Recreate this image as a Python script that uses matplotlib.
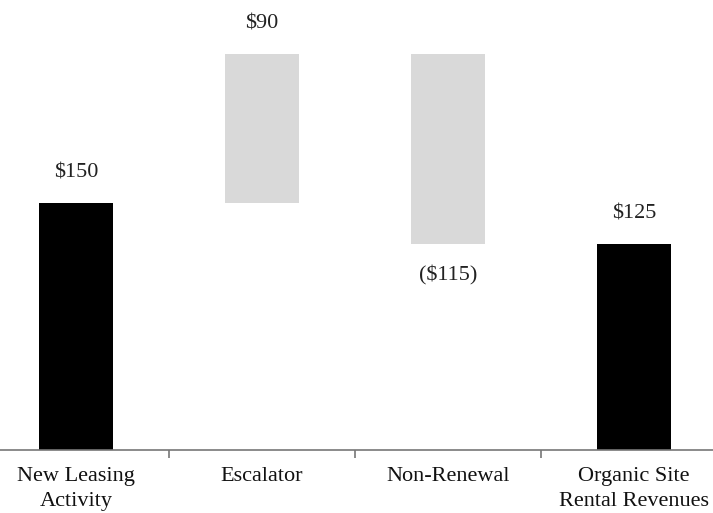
import matplotlib.pyplot as plt
from matplotlib.ticker import FixedLocator

plt.rcParams['font.family'] = ['Liberation Serif', 'DejaVu Serif']

categories = ['New Leasing\nActivity', 'Escalator', 'Non-Renewal', 'Organic Site\nRental Revenues']
changes = [150, 90, -115, 125]
labels = ['$150', '$90', '($115)', '$125']
is_total = [True, False, False, True]

# waterfall bases
bottoms = []
heights = []
running = 0
for val, tot in zip(changes, is_total):
    if tot:
        bottoms.append(0)
        heights.append(val)
        running = val
    else:
        bottoms.append(running if val > 0 else running + val)
        heights.append(abs(val))
        running += val

colors = ['black' if t else '#d9d9d9' for t in is_total]

fig = plt.figure(figsize=(7.13, 5.13), dpi=100)
ax = fig.add_axes([0, 63 / 513, 1, 1 - 63 / 513])

x = list(range(len(categories)))
ax.bar(x, heights, bottom=bottoms, width=0.4, color=colors)

for i, (b, h, lab) in enumerate(zip(bottoms, heights, labels)):
    if changes[i] < 0:
        ax.annotate(lab, (i, b), xytext=(0, -32), textcoords='offset pixels',
                    ha='center', va='center', fontsize=16, color='#222222')
    else:
        ax.annotate(lab, (i, b + h), xytext=(0, 30), textcoords='offset pixels',
                    ha='center', va='center', fontsize=16, color='#222222')

ax.set_xlim(-0.409, 3.425)
ax.set_ylim(0, 273)

for s in ['top', 'right', 'left']:
    ax.spines[s].set_visible(False)
ax.spines['bottom'].set_color('#777777')
ax.spines['bottom'].set_linewidth(1.2)
ax.set_yticks([])

ax.set_xticks(x)
ax.set_xticklabels(categories, fontsize=16, color='#111111', linespacing=1.45)
ax.tick_params(axis='x', which='major', length=0, pad=12)
ax.xaxis.set_minor_locator(FixedLocator([0.5, 1.5, 2.5]))
ax.tick_params(axis='x', which='minor', length=6, width=1.2, direction='out', color='#777777')

fig.savefig('out.png', dpi=100)
